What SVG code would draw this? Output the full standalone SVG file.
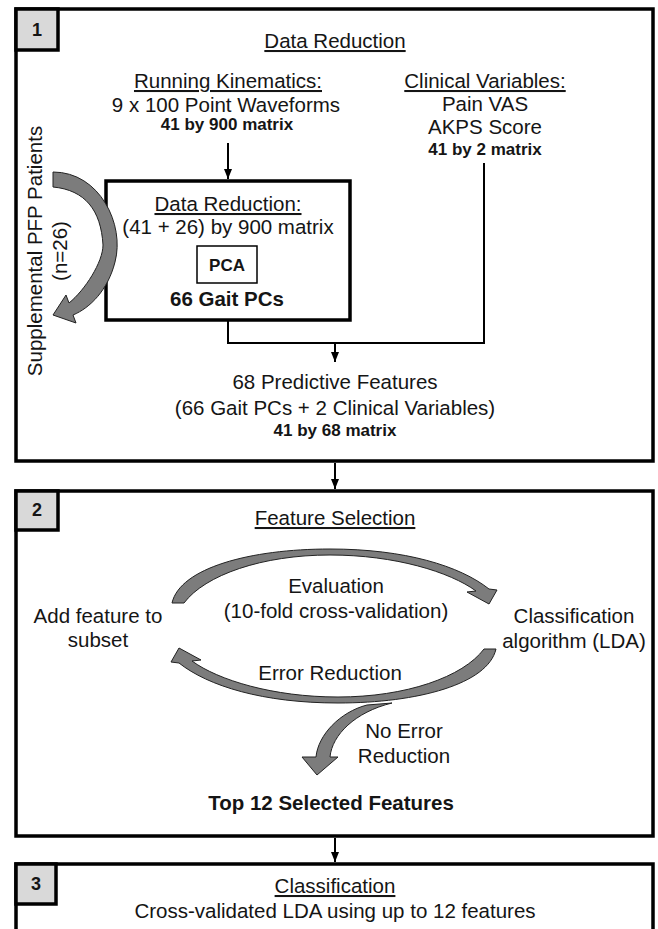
<svg xmlns="http://www.w3.org/2000/svg" width="658" height="929" viewBox="0 0 658 929">
<defs>
<style>
text{font-family:"Liberation Sans",Arial,sans-serif;fill:#151515}
.t{font-size:20.5px;text-anchor:middle}
.b{font-weight:bold;font-size:17px;text-anchor:middle}
.u{text-decoration:underline}
.box{fill:none;stroke:#000;stroke-width:3.5}
.badge{fill:#d9d9d9;stroke:#000;stroke-width:3.5}
.bt{font-weight:bold;font-size:18px;text-anchor:middle}
.con{fill:none;stroke:#000;stroke-width:2}
.arc{fill:#7c7c7c;stroke:#222;stroke-width:1}
</style>
<marker id="ah" markerUnits="userSpaceOnUse" markerWidth="10" markerHeight="10" refX="10" refY="5" orient="auto"><path d="M0,1 L10,5 L0,9 z" fill="#000"/></marker>
</defs>
<rect width="658" height="929" fill="#fff"/>

<g id="panel1">
<rect class="box" x="16" y="9" width="637" height="452"/>
<rect class="badge" x="16" y="9" width="42" height="41"/>
<text class="bt" x="37" y="36">1</text>
<text class="t u" x="335" y="48">Data Reduction</text>
</g>

<g id="running-kinematics">
<text class="t u" x="228" y="88">Running Kinematics:</text>
<text class="t" x="226" y="112">9 x 100 Point Waveforms</text>
<text class="b" x="227" y="130">41 by 900 matrix</text>
</g>

<g id="clinical-variables">
<text class="t u" x="485" y="88">Clinical Variables:</text>
<text class="t" x="485" y="111">Pain VAS</text>
<text class="t" x="485" y="134">AKPS Score</text>
<text class="b" x="485" y="155">41 by 2 matrix</text>
</g>

<g id="data-reduction">
<rect class="box" x="106" y="181" width="244" height="139"/>
<text class="t u" x="228" y="211">Data Reduction:</text>
<text class="t" x="228" y="234">(41 + 26) by 900 matrix</text>
<rect x="197" y="246" width="60" height="37" fill="#fff" stroke="#000" stroke-width="1.5"/>
<text class="b" x="227" y="271">PCA</text>
<text class="t" x="227" y="306" font-weight="bold">66 Gait PCs</text>
</g>

<g id="supplemental">
<text class="t" transform="translate(42,251) rotate(-90)">Supplemental PFP Patients</text>
<text class="t" transform="translate(67,251) rotate(-90)">(n=26)</text>
</g>

<g id="predictive-features">
<text class="t" x="335" y="389">68 Predictive Features</text>
<text class="t" x="335" y="415">(66 Gait PCs + 2 Clinical Variables)</text>
<text class="b" x="335" y="436">41 by 68 matrix</text>
</g>

<g id="panel2">
<rect class="box" x="16" y="491" width="637" height="345"/>
<rect class="badge" x="16" y="491" width="42" height="39"/>
<text class="bt" x="37" y="516">2</text>
<text class="t u" x="335" y="525">Feature Selection</text>
</g>

<g id="add-feature">
<text class="t" x="98" y="623">Add feature to</text>
<text class="t" x="98" y="647">subset</text>
</g>

<g id="classifier">
<text class="t" x="574" y="623">Classification</text>
<text class="t" x="574" y="648">algorithm (LDA)</text>
</g>

<g id="top12">
<text class="t" x="331" y="810" font-weight="bold">Top 12 Selected Features</text>
</g>

<g id="panel3">
<rect class="box" x="16" y="864" width="637" height="120"/>
<rect class="badge" x="16" y="864" width="40" height="40"/>
<text class="bt" x="36" y="890">3</text>
<text class="t u" x="335" y="893">Classification</text>
<text class="t" x="335" y="918">Cross-validated LDA using up to 12 features</text>
</g>

<g id="connectors">
<path class="con" d="M228,143 L228,179" marker-end="url(#ah)"/>
<path class="con" d="M228,321 L228,343 L484,343 L484,163"/>
<path class="con" d="M335,343 L335,362" marker-end="url(#ah)"/>
<path class="con" d="M335,463 L335,489" marker-end="url(#ah)"/>
<path class="con" d="M335,838 L335,862" marker-end="url(#ah)"/>
<path class="arc" fill="#6e6e6e" d="M53,172 C100,172 125,225 115,262 C108,290 90,308 73,315 L76,323 L53,315 L66,295 L69,303 C85,290 103,262 103,245 C101,210 85,190 53,187 Z"/>
<path class="arc" d="M172,603 C180,568 250,549 330,549 C405,549 460,566 489,589 L497,590 L489,604 L467,592 L476,591 C450,572 395,555 330,555 C262,555 205,575 184,603 Z"/>
<path class="arc" transform="rotate(180 334 626)" d="M172,603 C180,568 250,549 330,549 C405,549 460,566 489,589 L497,590 L489,604 L467,592 L476,591 C450,572 395,555 330,555 C262,555 205,575 184,603 Z"/>
<path class="arc" d="M367,705 C340,712 318,735 316,757 L302,757 L317,775 L338,757 L330,757 C332,735 355,712 392,703 Z"/>
</g>

<g id="loop-labels">
<text class="t" x="336" y="593">Evaluation</text>
<text class="t" x="336" y="618">(10-fold cross-validation)</text>
<text class="t" x="330" y="680">Error Reduction</text>
<text class="t" x="404" y="738">No Error</text>
<text class="t" x="404" y="763">Reduction</text>
</g>
</svg>
